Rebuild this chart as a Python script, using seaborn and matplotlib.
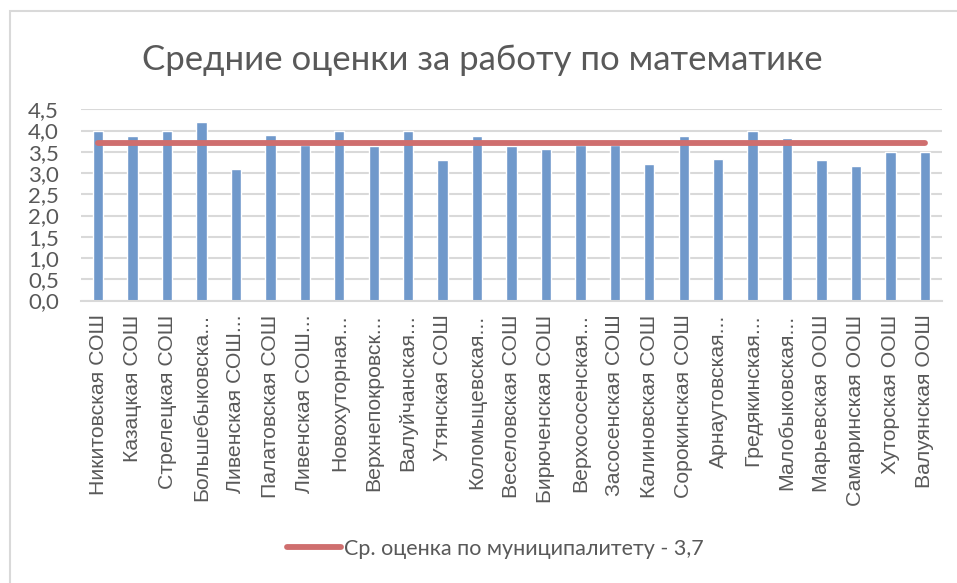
import numpy as np
import pandas as pd
import matplotlib.pyplot as plt
import matplotlib.patches as mpatches
from matplotlib.lines import Line2D
import seaborn as sns

schools = ["Никитовская СОШ", "Казацкая СОШ", "Стрелецкая СОШ", "Большебыковска...",
           "Ливенская СОШ...", "Палатовская СОШ", "Ливенская СОШ...", "Новохуторная...",
           "Верхнепокровск...", "Валуйчанская...", "Утянская СОШ", "Коломыцевская...",
           "Веселовская СОШ", "Бирюченская СОШ", "Верхососенская...", "Засосенская СОШ",
           "Калиновская СОШ", "Сорокинская СОШ", "Арнаутовская...", "Гредякинская...",
           "Малобыковская...", "Марьевская ООШ", "Самаринская ООШ", "Хуторская ООШ",
           "Валуянская ООШ"]
scores = [4.0, 3.86, 4.0, 4.19, 3.1, 3.9, 3.65, 4.0, 3.64, 4.0, 3.31, 3.86,
          3.64, 3.57, 3.65, 3.65, 3.21, 3.88, 3.34, 4.0, 3.82, 3.3, 3.16, 3.49, 3.49]
municipal_avg = 3.7
line_label = "Ср. оценка по муниципалитету - 3,7"
title = "Средние оценки за работу по математике"
yticks = [0, 0.5, 1.0, 1.5, 2.0, 2.5, 3.0, 3.5, 4.0, 4.5]

sns.set_style("white")
plt.rcParams['font.family'] = ['Liberation Sans', 'DejaVu Sans']
calibri_like = ['Lato', 'Open Sans', 'DejaVu Sans']
grey = "#595959"

df = pd.DataFrame({"school": range(len(schools)), "score": scores})

fig = plt.figure(figsize=(9.57, 5.83), dpi=100)
# рамка области диаграммы (как в Excel)
fig.patches.append(mpatches.Rectangle((10 / 957, -0.1), 1.2, 1 - 11 / 583 + 0.1,
                                      transform=fig.transFigure, fill=False,
                                      edgecolor="#d9d9d9", linewidth=1.5))
ax = fig.add_axes([81 / 957, 1 - 300.5 / 583, 861 / 957, 191.2 / 583])

sns.barplot(data=df, x="school", y="score", color="#7099cb", width=0.3,
            saturation=1, ax=ax, zorder=2)
ax.plot(np.arange(len(schools)), [municipal_avg] * len(schools), color="#cf6e6e",
        linewidth=4.2, solid_capstyle="round", zorder=3)

ax.set_ylim(0, 4.5)
ax.set_xlim(-0.5, len(schools) - 0.5)
ax.set_yticks(yticks)
ax.set_yticklabels([f"{v:.1f}".replace(".", ",") for v in yticks],
                   family=calibri_like, fontsize=16, color=grey)
ax.set_xticks(range(len(schools)))
ax.set_xticklabels(schools, rotation=90, fontsize=15.3, color=grey)
ax.tick_params(axis="both", length=0)
ax.tick_params(axis="x", pad=10)
ax.tick_params(axis="y", pad=16)
ax.grid(axis="y", color="#d9d9d9", linewidth=1.5, zorder=0)
ax.set_axisbelow(True)
for s in ["top", "right", "left"]:
    ax.spines[s].set_visible(False)
ax.spines["bottom"].set_color("#d9d9d9")
ax.spines["bottom"].set_linewidth(1.5)
ax.set_xlabel("")
ax.set_ylabel("")

fig.text(0.5035, 1 - 60 / 583, title, ha="center", va="center", fontsize=25,
         color=grey, family=calibri_like)

handle = Line2D([], [], color="#cf6e6e", linewidth=4.2, solid_capstyle="round")
fig.legend(handles=[handle], labels=[line_label], loc="center",
           bbox_to_anchor=(0.518, 34 / 583), frameon=False, handlelength=2.5,
           handletextpad=0.15, prop={"family": calibri_like, "size": 15.5},
           labelcolor=grey)

fig.savefig("out.png", dpi=100)
